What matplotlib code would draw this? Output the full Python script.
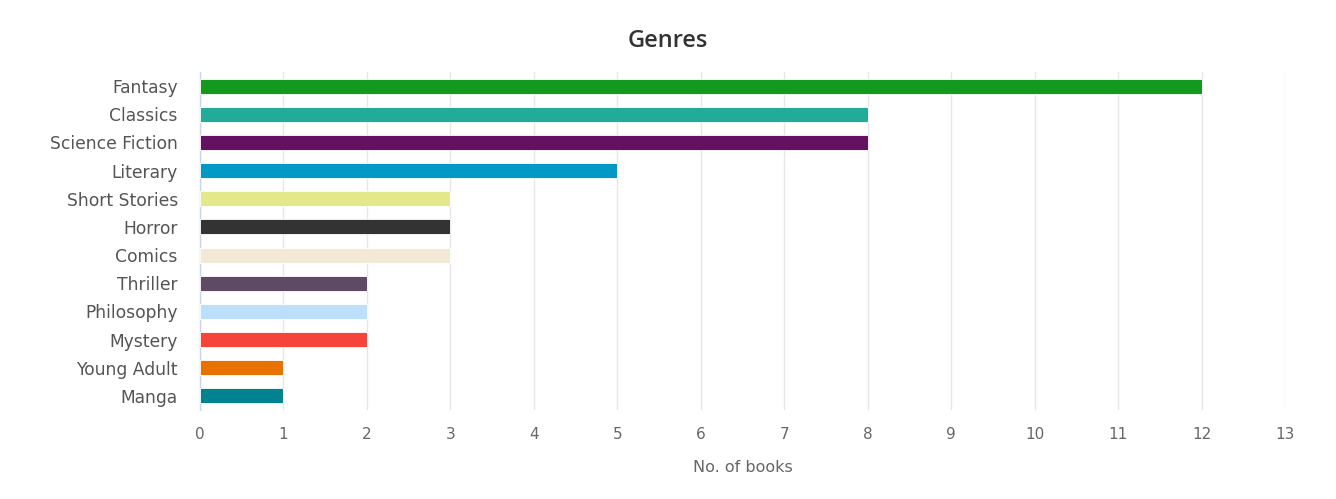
import matplotlib.pyplot as plt

# data
genres = ['Fantasy', 'Classics', 'Science Fiction', 'Literary', 'Short Stories', 'Horror',
          'Comics', 'Thriller', 'Philosophy', 'Mystery', 'Young Adult', 'Manga']
books = [12, 8, 8, 5, 3, 3, 3, 2, 2, 2, 1, 1]
colours = ['#139a1e', '#22ab99', '#641162', '#0399c6', '#e3e98a', '#333333',
           '#f2e8d5', '#5e4a65', '#bcdffb', '#f7443a', '#e87200', '#00838f']
ticks = list(range(0, 14))

fig = plt.figure(figsize=(13.36, 4.99), dpi=100)
ax = fig.add_axes([0.1497, 0.1784, 0.8121, 0.6773])

ypos = list(range(len(genres)))
ax.barh(ypos, books, height=0.53, color=colours, edgecolor='white', linewidth=0.6, zorder=3)

ax.set_ylim(len(genres) - 0.5, -0.5)
ax.set_xlim(0, 13)
ax.set_yticks(ypos)
ax.set_yticklabels(genres, fontsize=12.3, color='#555555', family='DejaVu Sans')
ax.set_xticks(ticks)
ax.set_xticklabels([str(t) for t in ticks], fontsize=11, color='#666666', family='DejaVu Sans')
ax.tick_params(axis='both', length=0)
ax.tick_params(axis='x', pad=12)
ax.tick_params(axis='y', pad=16)

ax.grid(axis='x', color='#e6e6e6', linewidth=1, zorder=0)
for side in ['top', 'right', 'bottom']:
    ax.spines[side].set_visible(False)
ax.spines['left'].set_color('#ccd6eb')
ax.spines['left'].set_linewidth(1)

ax.set_xlabel('No. of books', fontsize=11.5, color='#666666', family='DejaVu Sans', labelpad=13)
fig.text(0.4995, 0.918, 'Genres', ha='center', va='center', fontsize=17,
         color='#333333', family='Open Sans', weight='semibold')

fig.savefig('out.png', dpi=100, facecolor='white')
